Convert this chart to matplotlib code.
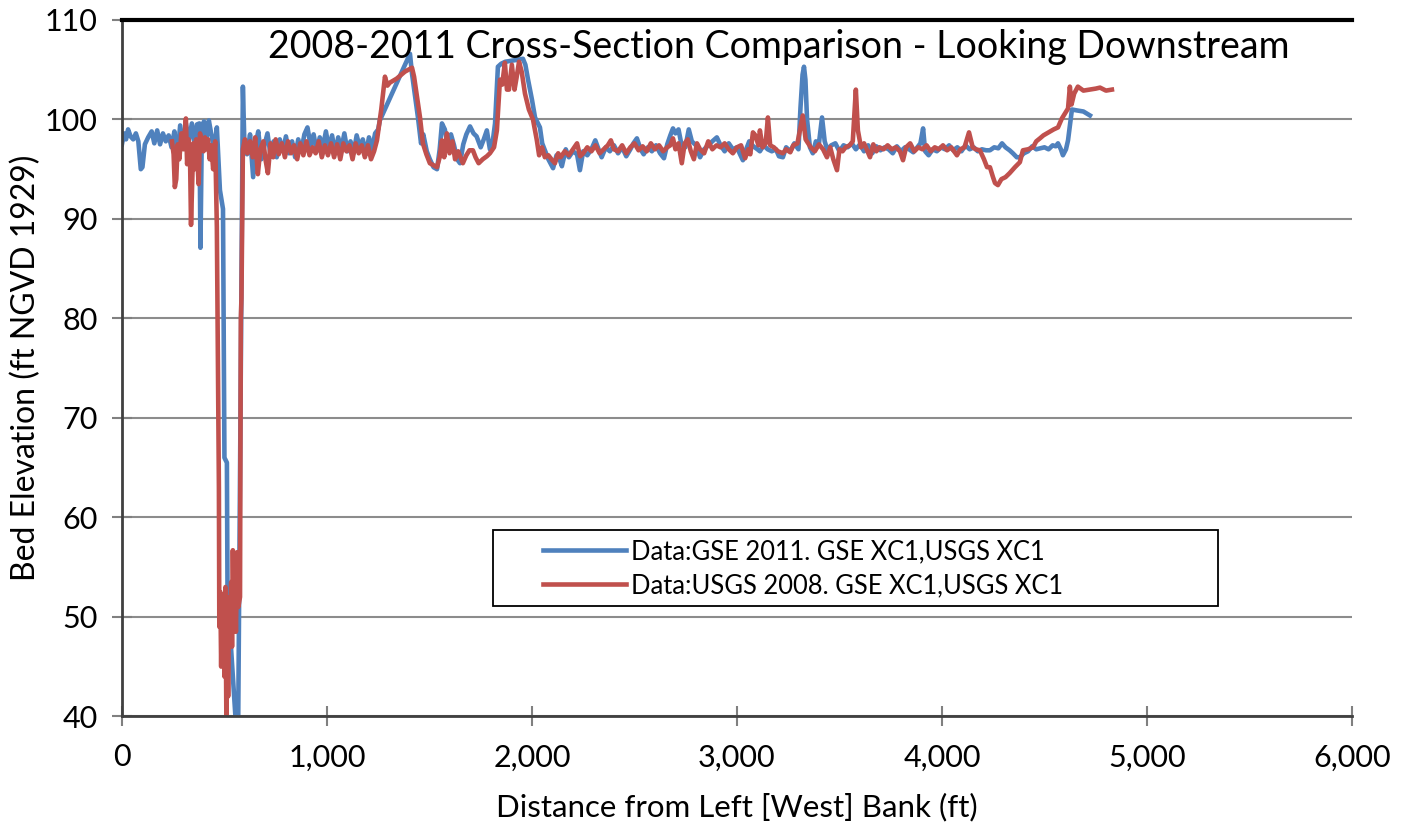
import matplotlib
matplotlib.use("Agg")
import matplotlib.pyplot as plt
from matplotlib.patches import Rectangle
from matplotlib.ticker import FuncFormatter, MultipleLocator

plt.rcParams['font.family'] = ['Lato', 'DejaVu Sans']

# GSE 2011 survey (distance ft, elevation ft)
dist_2011 = [
    0, 10, 20, 30, 42, 55, 68, 80, 92, 100, 112, 128, 145, 158, 172, 186, 200,
    214, 228, 242, 256, 270, 284, 298, 312, 326, 341, 355, 366, 378, 383, 390,
    400, 412, 424, 436, 450, 463, 478, 493, 500, 512, 515, 566, 590, 598, 610,
    625, 640, 652, 665, 680, 695, 710, 725, 740, 755, 770, 785, 800, 815, 830,
    845, 860, 875, 890, 905, 920, 935, 950, 965, 980, 995, 1010, 1025, 1040,
    1055, 1070, 1085, 1100, 1115, 1130, 1145, 1160, 1175, 1190, 1205, 1220,
    1235, 1250, 1258, 1405, 1415, 1444, 1459, 1470, 1487, 1502, 1520, 1537,
    1550, 1561, 1575, 1590, 1605, 1620, 1635, 1649, 1665, 1680, 1698, 1715,
    1730, 1750, 1765, 1780, 1795, 1810, 1820, 1834, 1850, 1870, 1900, 1930,
    1956, 1968, 1981, 2000, 2015, 2039, 2050, 2065, 2080, 2103, 2120, 2135,
    2146, 2165, 2180, 2200, 2220, 2234, 2250, 2270, 2290, 2309, 2325, 2340,
    2360, 2380, 2400, 2420, 2440, 2460, 2480, 2495, 2512, 2530, 2545, 2565,
    2585, 2605, 2625, 2644, 2660, 2675, 2688, 2700, 2715, 2730, 2748, 2765,
    2780, 2800, 2820, 2840, 2860, 2880, 2902, 2920, 2940, 2960, 2980, 3000,
    3015, 3029, 3045, 3060, 3080, 3100, 3112, 3130, 3150, 3170, 3190, 3205,
    3224, 3240, 3260, 3280, 3300, 3310, 3320, 3327, 3334, 3342, 3356, 3370,
    3385, 3400, 3415, 3428, 3440, 3460, 3480, 3500, 3520, 3540, 3560, 3580,
    3600, 3620, 3640, 3660, 3680, 3700, 3720, 3740, 3760, 3780, 3800, 3820,
    3840, 3860, 3880, 3895, 3908, 3918, 3935, 3955, 3975, 3995, 4015, 4035,
    4055, 4075, 4095, 4115, 4135, 4155, 4175, 4195, 4215, 4234, 4255, 4275,
    4293, 4310, 4330, 4346, 4365, 4380, 4400, 4420, 4440, 4460, 4480, 4500,
    4520, 4540, 4555, 4566, 4580, 4590, 4605, 4615, 4625, 4634, 4660, 4690,
    4722,
]
elev_2011 = [
    97.5, 98.6, 98.0, 99.0, 98.3, 98.0, 98.6, 97.8, 95.0, 95.2, 97.5, 98.2,
    98.8, 97.6, 98.9, 97.5, 98.6, 97.8, 98.4, 97.2, 98.8, 96.0, 99.4, 97.2,
    99.6, 97.8, 99.6, 97.5, 99.5, 99.6, 87.1, 99.2, 99.8, 98.0, 99.9, 98.5,
    97.0, 99.2, 92.9, 91.0, 66.0, 65.5, 52.4, 36.0, 103.3, 97.0, 96.5, 98.5,
    94.2, 97.5, 98.8, 96.0, 97.4, 98.6, 96.4, 97.8, 96.2, 98.0, 96.8, 98.3,
    96.6, 97.8, 96.2, 98.0, 96.8, 98.5, 99.2, 97.4, 98.5, 96.8, 98.2, 97.2,
    98.8, 97.0, 98.4, 96.6, 98.2, 97.0, 98.6, 96.8, 97.8, 96.6, 98.4, 97.2,
    98.0, 96.5, 98.2, 97.0, 98.6, 99.0, 99.9, 106.6, 104.6, 100.2, 97.6, 98.5,
    96.8, 96.0, 95.2, 95.0, 97.0, 99.6, 99.0, 97.2, 98.5, 97.4, 96.0, 95.6,
    97.5, 98.5, 99.3, 98.6, 98.3, 97.2, 98.0, 98.9, 97.0, 98.0, 99.6, 105.3,
    105.6, 105.8, 105.9, 106.0, 106.1, 105.5, 104.0, 102.0, 100.2, 99.2, 97.6,
    96.8, 96.0, 95.1, 96.4, 96.0, 95.3, 97.0, 96.2, 96.8, 96.5, 94.9, 96.8,
    96.4, 97.0, 97.9, 97.0, 96.2, 97.2, 96.8, 97.4, 96.6, 97.2, 96.3, 97.0,
    97.6, 98.1, 97.0, 96.5, 97.2, 96.8, 97.4, 96.6, 96.1, 97.5, 98.4, 99.1,
    98.6, 99.0, 97.4, 97.2, 99.0, 97.8, 97.4, 96.2, 97.0, 97.4, 97.8, 98.2,
    97.4, 96.8, 97.6, 97.0, 97.2, 96.5, 95.9, 97.0, 97.8, 97.3, 97.0, 96.8,
    97.4, 97.0, 96.8, 97.0, 96.3, 96.2, 97.2, 96.8, 97.6, 97.0, 101.2, 104.5,
    105.3, 104.0, 100.0, 97.2, 96.6, 97.8, 97.6, 100.2, 97.8, 97.0, 97.4, 97.6,
    96.8, 97.4, 97.2, 97.6, 97.0, 97.5, 96.8, 97.4, 96.6, 97.3, 96.9, 97.2,
    97.0, 96.6, 97.3, 96.8, 97.2, 97.0, 96.7, 97.2, 97.6, 99.1, 96.8, 96.4,
    97.0, 96.8, 97.2, 97.0, 97.4, 96.9, 97.2, 96.8, 97.4, 97.0, 97.2, 96.8,
    97.0, 96.9, 96.9, 97.2, 97.1, 97.6, 97.2, 96.9, 96.6, 96.2, 96.2, 96.6,
    96.8, 97.3, 97.0, 97.1, 97.2, 97.0, 97.4, 97.3, 97.6, 97.0, 96.4, 97.0,
    97.9, 99.5, 101.0, 100.9, 100.8, 100.4,
]

# USGS 2008 survey
dist_2008 = [
    244, 252, 258, 265, 272, 280, 290, 300, 307, 312, 318, 325, 332, 337, 342,
    348, 355, 362, 368, 374, 381, 390, 398, 405, 412, 420, 428, 436, 445, 455,
    463, 473, 475, 480, 484, 488, 492, 496, 500, 505, 510, 514, 518, 522, 527,
    533, 537, 541, 546, 550, 556, 562, 568, 576, 580, 583, 590, 600, 612, 625,
    638, 650, 663, 675, 690, 700, 712, 725, 738, 750, 765, 780, 795, 810, 825,
    840, 855, 870, 885, 900, 915, 930, 945, 960, 975, 990, 1005, 1020, 1035,
    1050, 1065, 1080, 1095, 1110, 1125, 1140, 1155, 1170, 1185, 1200, 1215,
    1230, 1244, 1265, 1283, 1295, 1307, 1340, 1380, 1415, 1425, 1454, 1468,
    1485, 1502, 1520, 1537, 1550, 1561, 1572, 1585, 1598, 1612, 1625, 1640,
    1663, 1680, 1695, 1712, 1725, 1740, 1760, 1780, 1795, 1815, 1829, 1844,
    1855, 1868, 1878, 1888, 1902, 1915, 1925, 1937, 1950, 1966, 1985, 2005,
    2024, 2035, 2049, 2063, 2080, 2095, 2112, 2128, 2140, 2160, 2180, 2200,
    2220, 2235, 2250, 2270, 2290, 2310, 2330, 2350, 2370, 2385, 2400, 2420,
    2440, 2460, 2480, 2500, 2520, 2540, 2560, 2580, 2600, 2620, 2640, 2660,
    2675, 2688, 2700, 2715, 2731, 2745, 2760, 2775, 2790, 2805, 2820, 2840,
    2860, 2880, 2900, 2920, 2940, 2960, 2980, 3000, 3020, 3040, 3055, 3065,
    3078, 3090, 3105, 3112, 3125, 3140, 3151, 3162, 3180, 3200, 3224, 3240,
    3260, 3275, 3295, 3307, 3321, 3335, 3341, 3360, 3380, 3400, 3420, 3439,
    3455, 3470, 3488, 3500, 3515, 3530, 3550, 3565, 3580, 3590, 3605, 3620,
    3635, 3649, 3665, 3680, 3695, 3715, 3735, 3755, 3775, 3795, 3810, 3825,
    3845, 3865, 3885, 3905, 3925, 3945, 3965, 3985, 4005, 4025, 4045, 4073,
    4090, 4110, 4132, 4150, 4165, 4185, 4205, 4220, 4234, 4249, 4259, 4273,
    4290, 4310, 4330, 4356, 4380, 4395, 4420, 4444, 4460, 4478, 4495, 4512,
    4530, 4545, 4566, 4585, 4600, 4615, 4624, 4632, 4645, 4663, 4690, 4720,
    4750, 4771, 4800, 4829,
]
elev_2008 = [
    97.8, 96.5, 93.2, 94.0, 97.5, 96.0, 98.6, 97.0, 98.8, 100.1, 95.5, 98.0,
    96.5, 89.4, 93.0, 97.6, 95.0, 98.0, 96.0, 93.5, 98.6, 97.4, 96.8, 98.2,
    97.0, 98.0, 96.0, 97.4, 95.0, 97.8, 89.2, 63.0, 49.0, 52.5, 45.0, 52.0,
    46.5, 51.0, 44.0, 53.0, 38.0, 52.0, 42.0, 50.5, 48.0, 53.5, 47.0, 56.7,
    49.0, 55.0, 48.5, 56.5, 51.0, 52.0, 80.0, 82.0, 97.0, 98.0, 96.6, 97.8,
    96.2, 98.2, 94.5, 97.0, 97.8, 96.0, 94.6, 97.6, 96.2, 98.0, 96.5, 97.6,
    96.2, 97.8, 96.6, 97.4, 96.0, 97.6, 96.4, 97.8, 96.4, 97.2, 96.6, 97.8,
    96.2, 97.4, 96.4, 97.6, 96.2, 97.5, 96.0, 97.6, 96.8, 97.4, 96.0, 97.6,
    96.6, 97.4, 96.2, 97.4, 96.0, 96.8, 97.9, 101.0, 104.3, 103.4, 103.7,
    104.1, 104.8, 105.2, 104.3, 100.2, 97.6, 96.5, 95.6, 95.4, 95.2, 96.2,
    97.9, 96.2, 98.6, 96.6, 97.8, 96.0, 96.8, 95.6, 96.4, 96.9, 96.9, 96.2,
    95.6, 96.0, 96.3, 96.6, 97.2, 98.9, 104.0, 103.5, 105.7, 103.0, 103.0,
    105.5, 103.0, 104.2, 105.8, 104.8, 102.6, 101.0, 100.0, 97.9, 96.4, 97.2,
    96.2, 96.4, 96.0, 95.6, 96.6, 96.2, 96.8, 96.4, 97.0, 97.6, 96.3, 96.6,
    97.2, 96.8, 97.4, 96.6, 97.0, 97.4, 97.9, 97.0, 96.8, 97.4, 96.6, 97.2,
    97.6, 96.9, 97.3, 96.8, 97.6, 97.0, 97.4, 96.8, 97.2, 97.4, 98.1, 97.0,
    97.6, 95.6, 97.6, 98.0, 96.8, 96.0, 97.6, 97.0, 96.6, 97.8, 97.0, 97.4,
    97.2, 97.6, 97.0, 96.6, 97.2, 97.4, 96.1, 97.0, 96.5, 98.7, 98.4, 97.4,
    98.9, 97.2, 97.6, 100.2, 97.4, 97.2, 96.8, 96.6, 97.0, 96.7, 97.4, 97.6,
    98.9, 100.4, 98.0, 97.8, 97.2, 96.8, 97.5, 97.0, 96.2, 97.2, 96.0, 94.9,
    97.0, 96.8, 97.2, 97.4, 97.8, 103.0, 98.9, 97.2, 97.6, 96.9, 96.2, 97.5,
    96.8, 97.2, 97.0, 97.4, 97.0, 97.2, 96.8, 95.9, 97.2, 97.6, 96.8, 97.2,
    97.0, 97.4, 96.8, 97.2, 97.0, 97.4, 96.9, 97.2, 96.4, 97.0, 97.2, 98.7,
    97.2, 97.0, 96.9, 96.0, 95.2, 95.2, 94.2, 93.6, 93.4, 94.0, 94.2, 94.6,
    95.2, 95.7, 96.9, 97.0, 97.2, 97.8, 98.1, 98.4, 98.6, 98.8, 99.0, 99.2,
    100.1, 100.6, 101.1, 103.3, 101.5, 102.6, 103.3, 102.9, 103.0, 103.1,
    103.2, 102.9, 103.0,
]

fig = plt.figure(figsize=(14.08, 8.32), dpi=100)
ax = fig.add_axes([0.0866, 0.139, 0.8736, 0.837])

ax.plot(dist_2011, elev_2011, color="#4F81BD", lw=3.3,
        label="Data:GSE 2011. GSE XC1,USGS XC1")
ax.plot(dist_2008, elev_2008, color="#C0504D", lw=3.3,
        label="Data:USGS 2008. GSE XC1,USGS XC1")

ax.set_xlim(0, 6000)
ax.set_ylim(40, 110)
ax.xaxis.set_major_locator(MultipleLocator(1000))
ax.yaxis.set_major_locator(MultipleLocator(10))
ax.xaxis.set_major_formatter(FuncFormatter(lambda v, p: f"{int(v):,}"))

ax.grid(axis="y", color="#8c8c8c", lw=1.5)
ax.set_axisbelow(True)
ax.spines["right"].set_visible(False)
ax.spines["top"].set_color("black")
ax.spines["top"].set_linewidth(3)
for s in ["left", "bottom"]:
    ax.spines[s].set_color("#404040")
    ax.spines[s].set_linewidth(2)
ax.tick_params(direction="inout", length=15, width=1.5, color="#808080",
               labelsize=22)
ax.tick_params(axis="y", pad=10)
ax.tick_params(axis="x", pad=12)

ax.set_xlabel("Distance from Left [West] Bank (ft)", fontsize=22.5)
ax.set_ylabel("Bed Elevation (ft NGVD 1929)", fontsize=23)
ax.xaxis.set_label_coords(0.5, -0.11)
ax.yaxis.set_label_coords(-0.066, 0.5)

ax.text(0.534, 0.961, "2008-2011 Cross-Section Comparison - Looking Downstream",
        transform=ax.transAxes, ha="center", va="center", fontsize=27)

# legend box drawn separately so its padding matches the original
ax.add_patch(Rectangle((0.302, 0.159), 0.589, 0.108, transform=ax.transAxes,
                       fill=False, edgecolor="black", lw=1.3, zorder=5))
leg = ax.legend(loc="center left", bbox_to_anchor=(0.342, 0.2125),
                fontsize=18.4, frameon=False, handlelength=3.25,
                handletextpad=0.2, borderpad=0, borderaxespad=0,
                labelspacing=0.35)

fig.savefig("out.png", dpi=100)
